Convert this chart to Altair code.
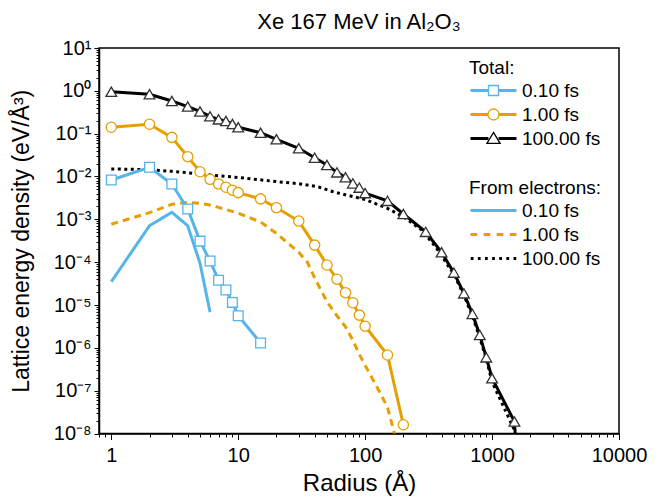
import altair as alt
import pandas as pd

FONT = "Liberation Sans, Arial, sans-serif"

series_labels = ["0.10 fs", "1.00 fs", "100.00 fs"]
series_colors = ["#56B4E9", "#E69F00", "#000000"]

# ---- Total lattice energy density ----
radius_total_01 = [1, 2, 3, 4, 5, 6, 7, 8, 9, 10, 15]
energy_total_01 = [0.0083, 0.0164, 0.0067, 0.00174, 3.1e-4, 1.06e-4, 3.8e-5, 2.24e-5,
                   1.15e-5, 5.6e-6, 1.3e-6]

radius_total_1 = [1, 2, 3, 4, 5, 6, 7, 8, 9, 10, 15, 20, 30, 40, 50, 60, 70, 80, 90, 100,
                  150, 200]
energy_total_1 = [0.141, 0.166, 0.082, 0.029, 0.0129, 0.0086, 0.0067, 0.0056, 0.0048, 0.0042,
                  0.0030, 0.00187, 0.00091, 0.00025, 8.6e-5, 4.0e-5, 1.94e-5, 1.13e-5,
                  5.8e-6, 3.2e-6, 6.8e-7, 1.6e-8]

radius_total_100 = [1, 2, 3, 4, 5, 6, 7, 8, 9, 10, 15, 20, 30, 40, 50, 60, 70, 80, 90, 100,
                    150, 200, 300, 400, 500, 600, 700, 800, 900, 1000, 1500, 1600]
energy_total_100 = [0.95, 0.83, 0.58, 0.43, 0.33, 0.254, 0.216, 0.198, 0.168, 0.141, 0.105,
                    0.074, 0.0455, 0.0275, 0.0185, 0.0125, 0.0096, 0.0069, 0.0055, 0.0041,
                    0.0027, 0.00133, 0.00051, 0.00017, 5.7e-5, 1.87e-5, 6.2e-6, 2.0e-6,
                    6.0e-7, 1.95e-7, 1.9e-8, 1e-9]

# ---- Energy from electrons ----
radius_elec_01 = [1, 2, 3, 4, 5, 6]
energy_elec_01 = [3.5e-5, 7.1e-4, 0.00146, 7.1e-4, 9.4e-5, 6.8e-6]

radius_elec_1 = [1, 2, 3, 4, 5, 6, 7, 8, 10, 15, 20, 30, 35, 40, 50, 60, 70, 80, 90, 100,
                 130, 150, 170, 180]
energy_elec_1 = [7.7e-4, 0.00143, 0.00224, 0.0025, 0.00237, 0.00216, 0.0019, 0.0017,
                 0.00138, 0.00087, 4.7e-4, 1.7e-4, 1.0e-4, 4.3e-5, 1.2e-5, 5.6e-6, 3.1e-6,
                 1.5e-6, 7e-7, 3.9e-7, 9.3e-8, 4.1e-8, 1.0e-8, 6e-9]

radius_elec_100 = [1, 2, 3, 4, 5, 7, 10, 20, 30, 43, 56, 100, 150, 200, 280, 366, 500, 600,
                   700, 800, 900, 1000, 1500, 1560]
energy_elec_100 = [0.015, 0.0145, 0.0132, 0.0122, 0.0114, 0.0104, 0.0095, 0.0076, 0.0068,
                   0.0057, 0.0044, 0.0029, 0.0018, 0.00115, 0.00056, 0.00021, 5.2e-5, 1.7e-5,
                   5.5e-6, 1.7e-6, 5.5e-7, 1.6e-7, 1.2e-8, 5e-9]

x_ticks = [0.8, 0.9] + [m * 10 ** e for e in range(0, 4) for m in range(1, 10)] + [10000]
y_ticks = [m * 10.0 ** e for e in range(-8, 1) for m in range(1, 10)] + [10.0]
sup = {"-": "\u207b", "0": "\u2070", "1": "\u00b9", "2": "\u00b2", "3": "\u00b3",
       "4": "\u2074", "5": "\u2075", "6": "\u2076", "7": "\u2077", "8": "\u2078",
       "9": "\u2079"}
y_decade_labels = ["10" + "".join(sup[c] for c in str(e)) for e in range(-8, 2)]


def frame(r, v, label):
    return pd.DataFrame({"radius": r, "energy": v, "series": label})


total_df = pd.concat([frame(radius_total_01, energy_total_01, series_labels[0]),
                      frame(radius_total_1, energy_total_1, series_labels[1]),
                      frame(radius_total_100, energy_total_100, series_labels[2])])
elec_df = pd.concat([frame(radius_elec_01, energy_elec_01, series_labels[0]),
                     frame(radius_elec_1, energy_elec_1, series_labels[1]),
                     frame(radius_elec_100, energy_elec_100, series_labels[2])])

is_dec = "abs(log(datum.value)/LN10 - round(log(datum.value)/LN10)) < 0.001"
tick_cond = {"condition": {"test": is_dec, "value": 6}, "value": 3.5}

x_axis = alt.Axis(values=x_ticks, title="Radius (Å)",
                  labelExpr=f"({is_dec}) ? format(datum.value, 'd') : ''",
                  tickSize=tick_cond, labelFontSize=20, titleFontSize=24,
                  labelFlush=False, labelOverlap=False, labelPadding=6, titlePadding=6)
y_axis = alt.Axis(values=y_ticks, title="Lattice energy density (eV/Å³)",
                  labelExpr=f"({is_dec}) ? {y_decade_labels}[round(log(datum.value)/LN10)+8] : ''",
                  tickSize={"condition": {"test": is_dec, "value": 5}, "value": 3},
                  labelFontSize=20, titleFontSize=23, labelOverlap=False, labelPadding=3,
                  titlePadding=20)

x_enc = alt.X("radius:Q", scale=alt.Scale(type="log", domain=[0.8, 10000]), axis=x_axis)
y_enc = alt.Y("energy:Q", scale=alt.Scale(type="log", domain=[1e-8, 10]), axis=y_axis)
color_scale = alt.Scale(domain=series_labels, range=series_colors)

elec_lines = alt.Chart(elec_df).mark_line(clip=True, strokeWidth=3).encode(
    x=x_enc, y=y_enc,
    color=alt.Color("series:N", scale=color_scale, legend=None),
    strokeDash=alt.StrokeDash("series:N", scale=alt.Scale(
        domain=series_labels, range=[[1, 0], [7, 5], [3, 3.5]]), legend=None),
)
total_lines = alt.Chart(total_df).mark_line(clip=True, strokeWidth=3).encode(
    x=x_enc, y=y_enc,
    color=alt.Color("series:N", scale=color_scale, legend=None),
)
total_points = alt.Chart(total_df).mark_point(
    clip=True, filled=False, fill="white", strokeWidth=1.3, opacity=1).encode(
    x=x_enc, y=y_enc,
    color=alt.Color("series:N", scale=alt.Scale(domain=series_labels,
                    range=["#56B4E9", "#E69F00", "#333333"]), legend=None),
    shape=alt.Shape("series:N", scale=alt.Scale(
        domain=series_labels, range=["square", "circle", "triangle-up"]), legend=None),
    size=alt.Size("series:O", scale=alt.Scale(domain=series_labels, range=[95, 115, 160]),
                  legend=None),
)

# ---- legends ----
common = dict(orient="none", padding=0, labelFontSize=19, titleFontSize=19,
              titleFontWeight="normal", labelFont=FONT, titleFont=FONT,
              labelColor="black", titleColor="black", rowPadding=4, titlePadding=3,
              labelOffset=4, clipHeight=19, symbolOpacity=1)

leg_total_line = alt.Legend(title="Total:", legendX=370, legendY=11, symbolSize=2116,
                            symbolStrokeWidth=3, **common)
gap_line = "M-1,0H-0.22M0.22,0H1"
lg1 = alt.Chart(total_df).transform_filter("false").mark_point(
    filled=False, strokeWidth=3, opacity=1).encode(
    color=alt.Color("series:N", scale=color_scale, legend=leg_total_line),
    shape=alt.Shape("series:N", scale=alt.Scale(domain=series_labels,
                    range=[gap_line] * 3), legend=leg_total_line),
)

common2 = dict(common)
common2.update(labelColor="transparent", titleColor="transparent")
leg_total_mark = alt.Legend(title="Total:", legendX=370, legendY=11, symbolSize=2200,
                            symbolStrokeWidth=1.3, **common2)
marker_paths = [
    "M-0.213,-0.213H0.213V0.213H-0.213Z",
    "M0.235,0A0.235,0.235 0 1,1 -0.235,0A0.235,0.235 0 1,1 0.235,0Z",
    "M0,-0.26L0.28,0.21H-0.28Z",
]
lg2 = alt.Chart(total_df).transform_filter("false").mark_point(
    filled=False, fill="white", strokeWidth=1.3, opacity=1).encode(
    color=alt.Color("series:N", scale=color_scale, legend=leg_total_mark),
    shape=alt.Shape("series:N", scale=alt.Scale(domain=series_labels,
                    range=marker_paths), legend=leg_total_mark),
)

leg_elec = alt.Legend(title="From electrons:", legendX=370, legendY=131, symbolSize=2116,
                      symbolStrokeWidth=3, **common)
solid_path = "M-1,0H1"
dash_path = "M-1,0H-0.71M-0.43,0H-0.14M0.14,0H0.43M0.71,0H1"
dot_centers = [-0.93, -0.62, -0.31, 0.0, 0.31, 0.62, 0.93]
dot_path = "".join(f"M{c - 0.06:.2f},0H{c + 0.06:.2f}" for c in dot_centers)
lg3 = alt.Chart(elec_df).transform_filter("false").mark_point(
    filled=False, strokeWidth=3, opacity=1).encode(
    color=alt.Color("series:N", scale=color_scale, legend=leg_elec),
    shape=alt.Shape("series:N", scale=alt.Scale(domain=series_labels,
                    range=[solid_path, dash_path, dot_path]), legend=leg_elec),
)

chart = alt.layer(elec_lines, total_lines, total_points, lg1, lg2, lg3).resolve_scale(
    color="independent", shape="independent", strokeDash="independent", size="independent"
).properties(
    width=520, height=385.5,
    title=alt.TitleParams("Xe 167 MeV in Al₂O₃", fontSize=22, font=FONT,
                          fontWeight="normal", color="black", anchor="middle",
                          frame="group", baseline="alphabetic", offset=17, dy=30),
    autosize=alt.AutoSizeParams(type="none"),
    padding={"left": 99, "top": 48, "right": 43, "bottom": 64.5},
    background="white",
).configure_axis(
    labelFont=FONT, titleFont=FONT, labelColor="black", titleColor="black",
    domainColor="black", tickColor="black", domainWidth=1.5, tickWidth=1, grid=False,
    titleFontWeight="normal",
).configure_view(stroke="black", strokeWidth=1.5)

chart.save("out.html", embed_options={"renderer": "svg", "actions": False})
